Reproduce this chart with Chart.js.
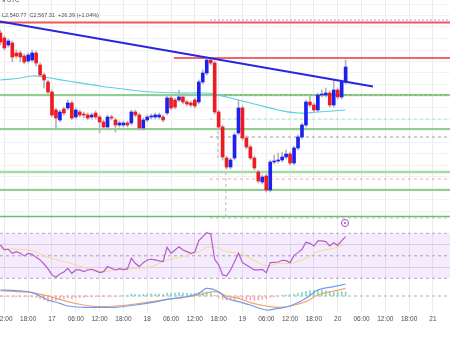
<!DOCTYPE html>
<html>
<head>
<meta charset="utf-8">
<script src="https://cdn.jsdelivr.net/npm/chart.js@4.4.1/dist/chart.umd.min.js"></script>
<style>
  html, body { margin: 0; padding: 0; background: #fff; }
  #wrap { position: relative; width: 450px; height: 338px; overflow: hidden; font-family: "Liberation Sans", Arial, sans-serif; }
  #wrap canvas { position: absolute; left: 0; }
  #main { top: 0; }
  #rsi { top: 226px; }
  #macd { top: 283px; }
  .legend { position: absolute; left: 2px; color: #4a4a4a; white-space: nowrap; }
  .flag { position: absolute; left: 341px; top: 219px; width: 6px; height: 6px; border: 1px solid #a24bd0; border-radius: 50%; background: #fff; }
  .flag:after { content: ""; position: absolute; left: 2px; top: 2px; width: 2px; height: 2px; background: #a24bd0; border-radius: 50%; }
</style>
</head>
<body>
<div id="wrap">
  <canvas id="main" width="450" height="226"></canvas>
  <canvas id="rsi" width="450" height="57"></canvas>
  <canvas id="macd" width="450" height="55"></canvas>
  <div class="legend" style="top:-3px;font-size:6px;">9 UTC</div>
  <div class="legend" style="top:12px;font-size:5.5px;">L2,540.77&nbsp; C2,567.31&nbsp; +26.39 (+1.04%)</div>
  <div class="flag"></div>
</div>
<script>
// hourly candles, hour 0 = day 17 00:00 UTC
const FIRST_HOUR = -13
const X_MIN = -13.1
const X_MAX = 100.3

const opens = [2634, 2624, 2610, 2614, 2594, 2594, 2588, 2578, 2580, 2594, 2570, 2550, 2536, 2516,
  2480, 2460, 2482, 2484, 2494, 2466, 2476, 2472, 2470, 2466, 2474, 2466, 2456, 2446, 2466, 2460,
  2450, 2450, 2454, 2454, 2476, 2470, 2444, 2460, 2466, 2466, 2466, 2466, 2474, 2504, 2500, 2500,
  2506, 2496, 2494, 2500, 2496, 2536, 2554, 2580, 2574, 2476, 2446, 2384, 2366, 2384, 2434, 2484,
  2424, 2406, 2384, 2356, 2336, 2348, 2320, 2376, 2378, 2380, 2386, 2392, 2374, 2404, 2426, 2450,
  2496, 2490, 2480, 2510, 2510, 2514, 2490, 2520, 2506, 2536]
const highs = [2640, 2628, 2622, 2618, 2600, 2598, 2592, 2594, 2600, 2598, 2574, 2554, 2540, 2520,
  2484, 2480, 2486, 2500, 2498, 2484, 2480, 2476, 2474, 2474, 2478, 2470, 2460, 2470, 2470, 2464,
  2458, 2458, 2458, 2480, 2480, 2474, 2464, 2470, 2472, 2474, 2474, 2470, 2508, 2508, 2504, 2520,
  2510, 2500, 2498, 2504, 2540, 2560, 2584, 2586, 2578, 2480, 2450, 2388, 2384, 2434, 2500, 2488,
  2428, 2410, 2388, 2360, 2350, 2352, 2380, 2390, 2394, 2396, 2400, 2396, 2408, 2430, 2454, 2500,
  2510, 2494, 2514, 2520, 2524, 2518, 2540, 2524, 2540, 2580]
const lows = [2610, 2600, 2606, 2576, 2584, 2576, 2572, 2574, 2576, 2568, 2546, 2524, 2512, 2466,
  2440, 2456, 2470, 2480, 2460, 2462, 2466, 2464, 2460, 2462, 2462, 2434, 2442, 2440, 2460, 2436,
  2446, 2446, 2446, 2450, 2466, 2440, 2440, 2456, 2462, 2462, 2462, 2456, 2470, 2480, 2482, 2496,
  2492, 2488, 2486, 2484, 2492, 2532, 2550, 2570, 2472, 2442, 2380, 2362, 2362, 2380, 2430, 2420,
  2402, 2380, 2360, 2334, 2332, 2316, 2316, 2372, 2374, 2376, 2382, 2370, 2370, 2400, 2422, 2446,
  2486, 2476, 2476, 2506, 2506, 2486, 2486, 2502, 2502, 2532]
const closes = [2616, 2604, 2618, 2586, 2588, 2586, 2576, 2590, 2594, 2574, 2550, 2540, 2516, 2470,
  2464, 2476, 2474, 2494, 2464, 2480, 2470, 2470, 2464, 2470, 2466, 2456, 2446, 2466, 2464, 2450,
  2454, 2454, 2450, 2476, 2470, 2444, 2460, 2466, 2468, 2470, 2470, 2460, 2504, 2484, 2486, 2506,
  2496, 2492, 2490, 2488, 2536, 2554, 2580, 2574, 2476, 2446, 2386, 2366, 2380, 2430, 2484, 2424,
  2406, 2384, 2364, 2338, 2346, 2320, 2376, 2378, 2380, 2386, 2392, 2374, 2404, 2426, 2450, 2496,
  2490, 2480, 2510, 2512, 2514, 2490, 2520, 2506, 2536, 2566]

// cyan moving average on price
const maHours = [-13, -8, -5, -2, 4, 12, 20, 25, 32, 38, 41, 44, 47, 52, 57, 62, 67, 74]
const maPrices = [2540, 2544, 2548, 2546, 2538, 2528, 2520, 2516, 2514, 2514, 2512, 2506, 2500, 2490, 2480, 2474, 2476, 2480]

// drawn lines
const trendHours = [-13.1, 80.9]
const trendPrices = [2657, 2527]
const levelPrices = [2660, 2655, 2584, 2510, 2510, 2462, 2442, 2426, 2356, 2342, 2320, 2267, 2264]
const levelStarts = [39.8, X_MIN, 30.7, X_MIN, 41, 39.8, X_MIN, 39.8, X_MIN, 39.8, X_MIN, X_MIN, 39.8]
const markHours = [41.8, 43.8]
const markTops = [2474, 2380]
const markBottoms = [2380, 2266]
const priceGrid = [2278, 2301, 2324, 2347, 2370, 2393, 2416, 2439, 2462, 2485, 2508, 2531, 2554, 2577, 2600, 2623, 2646, 2669, 2692]

// RSI
const rsiValues = [59.6, 55.2, 55.8, 52.2, 53.7, 52.2, 49.9, 52.2, 51.3, 48.6, 46.3, 42.7, 38.3, 33,
  30.9, 33.9, 35.6, 38.9, 34.4, 37.4, 37.4, 35.9, 37.4, 38, 36.8, 35, 35.9, 40.4, 38.9, 37.4,
  38.6, 37.7, 38.3, 47.8, 43.3, 40.4, 43.9, 46.3, 46.9, 46.3, 45.4, 44.8, 57.6, 52.2, 55.2, 58.1,
  55.2, 53.7, 52.2, 53.4, 63.5, 67, 70.6, 69.4, 46.9, 41.9, 33, 32.1, 37.4, 44.8, 52.2, 43.9,
  41.9, 39.5, 37.4, 37.4, 38, 35, 43.9, 44.2, 44.5, 46, 45.7, 43.9, 50.4, 52.8, 55.8, 62,
  61.1, 58.7, 63.2, 63.2, 62.6, 58.7, 61.7, 59.3, 63.5, 67]
const rsiMaHours = [-13, -9, -5, -1, 4, 8, 12, 16, 21, 25, 29, 33, 37, 40, 44, 47, 50, 54, 57, 60, 64, 67, 71, 74]
const rsiMaValues = [56.7, 55.8, 54.6, 48.7, 43.9, 39.8, 35.9, 37.4, 38.9, 40.4, 46.3, 49.3, 53.7, 58.1, 53.7, 52.2, 47.8, 41, 43.3, 43.3, 47.8, 53.7, 56.7, 60.5]
const rsiBand = [30, 50, 70]
const rsiGrid = [40, 60]

// MACD
const macdHours = [-13, -9, -5, -1, 2, 4, 8, 12, 16, 21, 25, 29, 33, 37, 39, 42, 44, 47, 50, 54, 57, 60, 64, 67, 71, 74]
const macdValues = [9, 8, 5, -6, -11, -15, -17, -17, -17, -13.5, -10, -5, -2, 4, 11.5, 6.5, -3.5, -8.5, -13.5, -21, -18.5, -15, -3.5, 9, 14, 18]
const signalHours = [-13, -9, -5, -1, 4, 8, 12, 16, 21, 25, 29, 33, 37, 41, 44, 47, 50, 54, 57, 60, 64, 67, 71, 74]
const signalValues = [8, 6.5, 5, 0, -8.5, -13.5, -16, -15, -12, -8.5, -5, -2, 1.5, 6.5, 0, -3.5, -10, -15, -17, -15, -8.5, 1.5, 7.5, 11.5]
const histValues = [-1, -1, -1, -1, -1, -1, -1, -1, -1.5, -2, -4, -6, -8, -8.5,
  -7, -5, -4, -3, -4, -3, -2, -2, -1, -1, -1, -1, -1, -0.5, -0.5, -0.5, -0.5, 0.5, 1, 3,
  2.5, 2, 2.5, 3, 3, 3, 3, 2.5, 4.5, 4, 4.5, 5, 4.5, 4, 3.5, 3.5, 5, 5.5, 6.5, 5.5,
  1, -3, -5, -6, -6, -5.5, -4, -5, -6, -6, -6.5, -6, -5, -4, -2, -1, 0, 1, 1.5, 2,
  3, 4, 5.5, 7, 8, 9, 9.5, 9, 8, 7, 6.5, 6.5, 6.5, 6]

// x ticks every 6 hours
const tickHours = [-12, -6, 0, 6, 12, 18, 24, 30, 36, 42, 48, 54, 60, 66, 72, 78, 84, 90, 96]

const hours = opens.map((_, i) => FIRST_HOUR + i)

const levelStyles = [
  { color: "#c890f0", width: 1, dash: [2, 2] },
  { color: "#f25757", width: 2.2, dash: [] },
  { color: "#ef3340", width: 1.4, dash: [] },
  { color: "#6cbf6a", width: 1.5, dash: [] },
  { color: "#5a6b3a", width: 1, dash: [2, 3] },
  { color: "#9be3e6", width: 1, dash: [3, 3] },
  { color: "#6cbf6a", width: 1.5, dash: [] },
  { color: "#a795a8", width: 1, dash: [3, 3] },
  { color: "#a8dca6", width: 2.5, dash: [] },
  { color: "#f3a6a6", width: 1, dash: [3, 3] },
  { color: "#6cbf6a", width: 1.5, dash: [] },
  { color: "#6cbf6a", width: 1.5, dash: [] },
  { color: "#b9c9b9", width: 1, dash: [3, 3] },
]

const UP = "#1b22f0"
const DOWN = "#ee1c22"

function tickLabel(h) {
  const hh = ((h % 24) + 24) % 24
  if (hh === 0) return String(17 + h / 24)
  return (hh < 10 ? "0" : "") + hh + ":00"
}

function xAxis(showLabels) {
  return {
    type: "linear",
    min: X_MIN,
    max: X_MAX,
    offset: false,
    afterBuildTicks: (s) => { s.ticks = tickHours.map((v) => ({ value: v })) },
    grid: { color: "#ebebee", drawTicks: false, offset: false },
    border: { display: false },
    ticks: {
      display: showLabels,
      autoSkip: false,
      maxRotation: 0,
      padding: 3,
      color: "#4c4c4c",
      font: { size: 6.5, family: "'Liberation Sans', Arial, sans-serif" },
      callback: (v) => tickLabel(v),
    },
    afterFit: (s) => {
      s.height = showLabels ? 26 : 0
      s.paddingLeft = 0
      s.paddingRight = 0
    },
  }
}

function yAxis(min, max, grid, gridColor) {
  return {
    min: min,
    max: max,
    afterBuildTicks: (s) => { s.ticks = grid.map((v) => ({ value: v })) },
    ticks: { display: false },
    grid: { color: gridColor, drawTicks: false },
    border: { display: false },
    afterFit: (s) => { s.width = 0 },
  }
}

const baseOptions = {
  responsive: false,
  animation: false,
  devicePixelRatio: 1,
  layout: { padding: 0, autoPadding: false },
  plugins: { legend: { display: false }, tooltip: { enabled: false } },
}

function flatLine(x0, x1, y, color, width, dash, order) {
  return {
    type: "line",
    data: [{ x: x0, y: y }, { x: x1, y: y }],
    borderColor: color,
    borderWidth: width,
    borderDash: dash,
    pointRadius: 0,
    fill: false,
    order: order,
  }
}

// Main price panel
const mainSets = []
mainSets.push({
  type: "line",
  data: trendHours.map((h, i) => ({ x: h, y: trendPrices[i] })),
  borderColor: "#2626e0",
  borderWidth: 1.8,
  pointRadius: 0,
  order: 0,
})
mainSets.push({
  type: "bar",
  data: hours.map((h, i) => ({ x: h, y: [opens[i], closes[i]] })),
  backgroundColor: hours.map((h, i) => (closes[i] >= opens[i] ? UP : DOWN)),
  barThickness: 3,
  minBarLength: 1,
  grouped: false,
  order: 1,
})
mainSets.push({
  type: "bar",
  data: hours.map((h, i) => ({ x: h, y: [lows[i], highs[i]] })),
  backgroundColor: "#b4b4bc",
  barThickness: 1,
  grouped: false,
  order: 2,
})
markHours.forEach((h, i) => {
  mainSets.push({
    type: "line",
    data: [{ x: h, y: markTops[i] }, { x: h, y: markBottoms[i] }],
    borderColor: "#b8b8b8",
    borderWidth: 1,
    borderDash: [3, 3],
    pointRadius: 0,
    order: 3,
  })
})
mainSets.push({
  type: "line",
  data: maHours.map((h, i) => ({ x: h, y: maPrices[i] })),
  borderColor: "#5ccfe0",
  borderWidth: 1.2,
  pointRadius: 0,
  tension: 0.4,
  order: 4,
})
levelPrices.forEach((p, i) => {
  const st = levelStyles[i]
  mainSets.push(flatLine(levelStarts[i], X_MAX, p, st.color, st.width, st.dash, 5 + i))
})

new Chart(document.getElementById("main"), {
  type: "bar",
  data: { datasets: mainSets },
  options: Object.assign({}, baseOptions, {
    scales: { x: xAxis(false), y: yAxis(2248, 2700, priceGrid, "#f2f2f4") },
  }),
})

// RSI panel
new Chart(document.getElementById("rsi"), {
  type: "line",
  data: {
    datasets: [
      {
        data: hours.map((h, i) => ({ x: h, y: rsiValues[i] })),
        borderColor: "#b35ccb",
        borderWidth: 1.2,
        pointRadius: 0,
        order: 0,
      },
      {
        data: rsiMaHours.map((h, i) => ({ x: h, y: rsiMaValues[i] })),
        borderColor: "#f8d98f",
        borderWidth: 1,
        pointRadius: 0,
        tension: 0.4,
        order: 1,
      },
      Object.assign(flatLine(X_MIN, X_MAX, rsiBand[2], "#b8a8c4", 1, [3, 3], 2), {
        fill: "+1",
        backgroundColor: "rgba(168, 98, 235, 0.13)",
      }),
      flatLine(X_MIN, X_MAX, rsiBand[0], "#b8a8c4", 1, [3, 3], 3),
      flatLine(X_MIN, X_MAX, rsiBand[1], "#b0a4bc", 1, [3, 3], 4),
    ],
  },
  options: Object.assign({}, baseOptions, {
    scales: { x: xAxis(false), y: yAxis(25.8, 76.5, rsiGrid, "#e4dcea") },
  }),
})

// MACD panel
new Chart(document.getElementById("macd"), {
  type: "bar",
  data: {
    datasets: [
      {
        type: "line",
        data: macdHours.map((h, i) => ({ x: h, y: macdValues[i] })),
        borderColor: "#6f9cf2",
        borderWidth: 1.2,
        pointRadius: 0,
        tension: 0.4,
        order: 0,
      },
      {
        type: "line",
        data: signalHours.map((h, i) => ({ x: h, y: signalValues[i] })),
        borderColor: "#f6a468",
        borderWidth: 1.2,
        pointRadius: 0,
        tension: 0.4,
        order: 1,
      },
      {
        type: "bar",
        data: hours.map((h, i) => ({ x: h, y: histValues[i] })),
        backgroundColor: histValues.map((v) => (v >= 0 ? "#86d6cb" : "#f6a9b1")),
        barThickness: 1,
        grouped: false,
        order: 2,
      },
      flatLine(X_MIN, X_MAX, 0, "#b0b0b0", 1, [3, 3], 3),
    ],
  },
  options: Object.assign({}, baseOptions, {
    scales: { x: xAxis(true), y: yAxis(-24, 19.5, [], "#eeeeee") },
  }),
})
</script>
</body>
</html>
